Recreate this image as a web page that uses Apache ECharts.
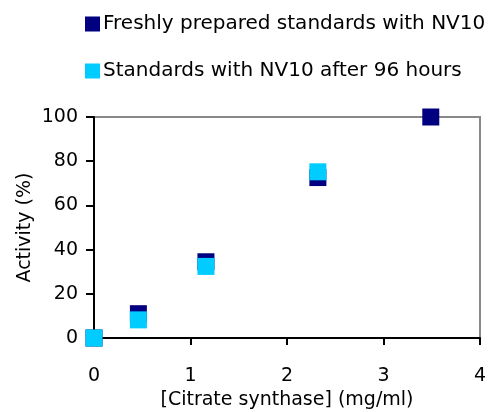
<!DOCTYPE html>
<html>
<head>
<meta charset="utf-8">
<script src="https://cdn.jsdelivr.net/npm/echarts@6/dist/echarts.min.js"></script>
<style>html,body{margin:0;padding:0;background:#fff}#c{width:491px;height:412px}</style>
</head>
<body>
<div id="c"></div>
<script>
const seriesNames = ["Freshly prepared standards with NV10", "Standards with NV10 after 96 hours"];
const freshX = [0, 0.46, 1.16, 2.32, 3.49];
const freshY = [0, 11, 34.5, 72.6, 100];
const agedX = [0, 0.46, 1.16, 2.32];
const agedY = [0, 8.2, 32.4, 75.2];
const xTicks = [0, 1, 2, 3, 4];
const yTicks = [0, 20, 40, 60, 80, 100];
const xTitle = "[Citrate synthase] (mg/ml)";
const yTitle = "Activity (%)";

const FONT = "DejaVu Sans";
const pair = (xs, ys) => xs.map((x, i) => [x, ys[i]]);

const chart = echarts.init(document.getElementById('c'), null, {renderer: 'canvas'});
chart.setOption({
  animation: false,
  backgroundColor: '#fff',
  textStyle: {fontFamily: FONT},
  legend: {
    orient: 'vertical',
    left: 80, top: 9,
    itemWidth: 15, itemHeight: 15, itemGap: 27,
    icon: 'rect',
    textStyle: {fontFamily: FONT, fontSize: 20, lineHeight: 20, color: '#000', padding: [0,0,0,-2]},
    data: seriesNames
  },
  grid: {left: 94, right: 11, top: 117, bottom: 74, outerBoundsMode: 'none', containLabel: false,
         show: true, borderColor: '#888', borderWidth: 2, backgroundColor: 'transparent'},
  xAxis: {
    type: 'value', min: xTicks[0], max: xTicks[xTicks.length-1], interval: 1,
    name: xTitle, nameLocation: 'middle', nameGap: 53, nameMoveOverlap: false,
    nameTextStyle: {fontFamily: FONT, fontSize: 19, color: '#000'},
    axisLine: {show: true, onZero: false, lineStyle: {color: '#000', width: 2}},
    axisTick: {show: true, length: 7, lineStyle: {color: '#000', width: 2}},
    axisLabel: {fontFamily: FONT, fontSize: 19, color: '#000', margin: 29},
    splitLine: {show: false}
  },
  yAxis: {
    type: 'value', min: yTicks[0], max: yTicks[yTicks.length-1], interval: 20,
    name: yTitle, nameLocation: 'middle', nameGap: 59, nameRotate: 90, nameMoveOverlap: false,
    nameTextStyle: {fontFamily: FONT, fontSize: 19, color: '#000'},
    axisLine: {show: true, onZero: false, lineStyle: {color: '#000', width: 2}},
    axisTick: {show: true, length: 8, lineStyle: {color: '#000', width: 2}},
    axisLabel: {fontFamily: FONT, fontSize: 19, color: '#000', margin: 16},
    splitLine: {show: false}
  },
  series: [
    {name: seriesNames[0], type: 'scatter', symbol: 'rect', symbolSize: 17,
     itemStyle: {color: '#000080', opacity: 1}, data: pair(freshX, freshY), z: 2},
    {name: seriesNames[1], type: 'scatter', symbol: 'rect', symbolSize: 17,
     itemStyle: {color: '#00CCFF', opacity: 1}, data: pair(agedX, agedY), z: 3}
  ]
});
</script>
</body>
</html>
